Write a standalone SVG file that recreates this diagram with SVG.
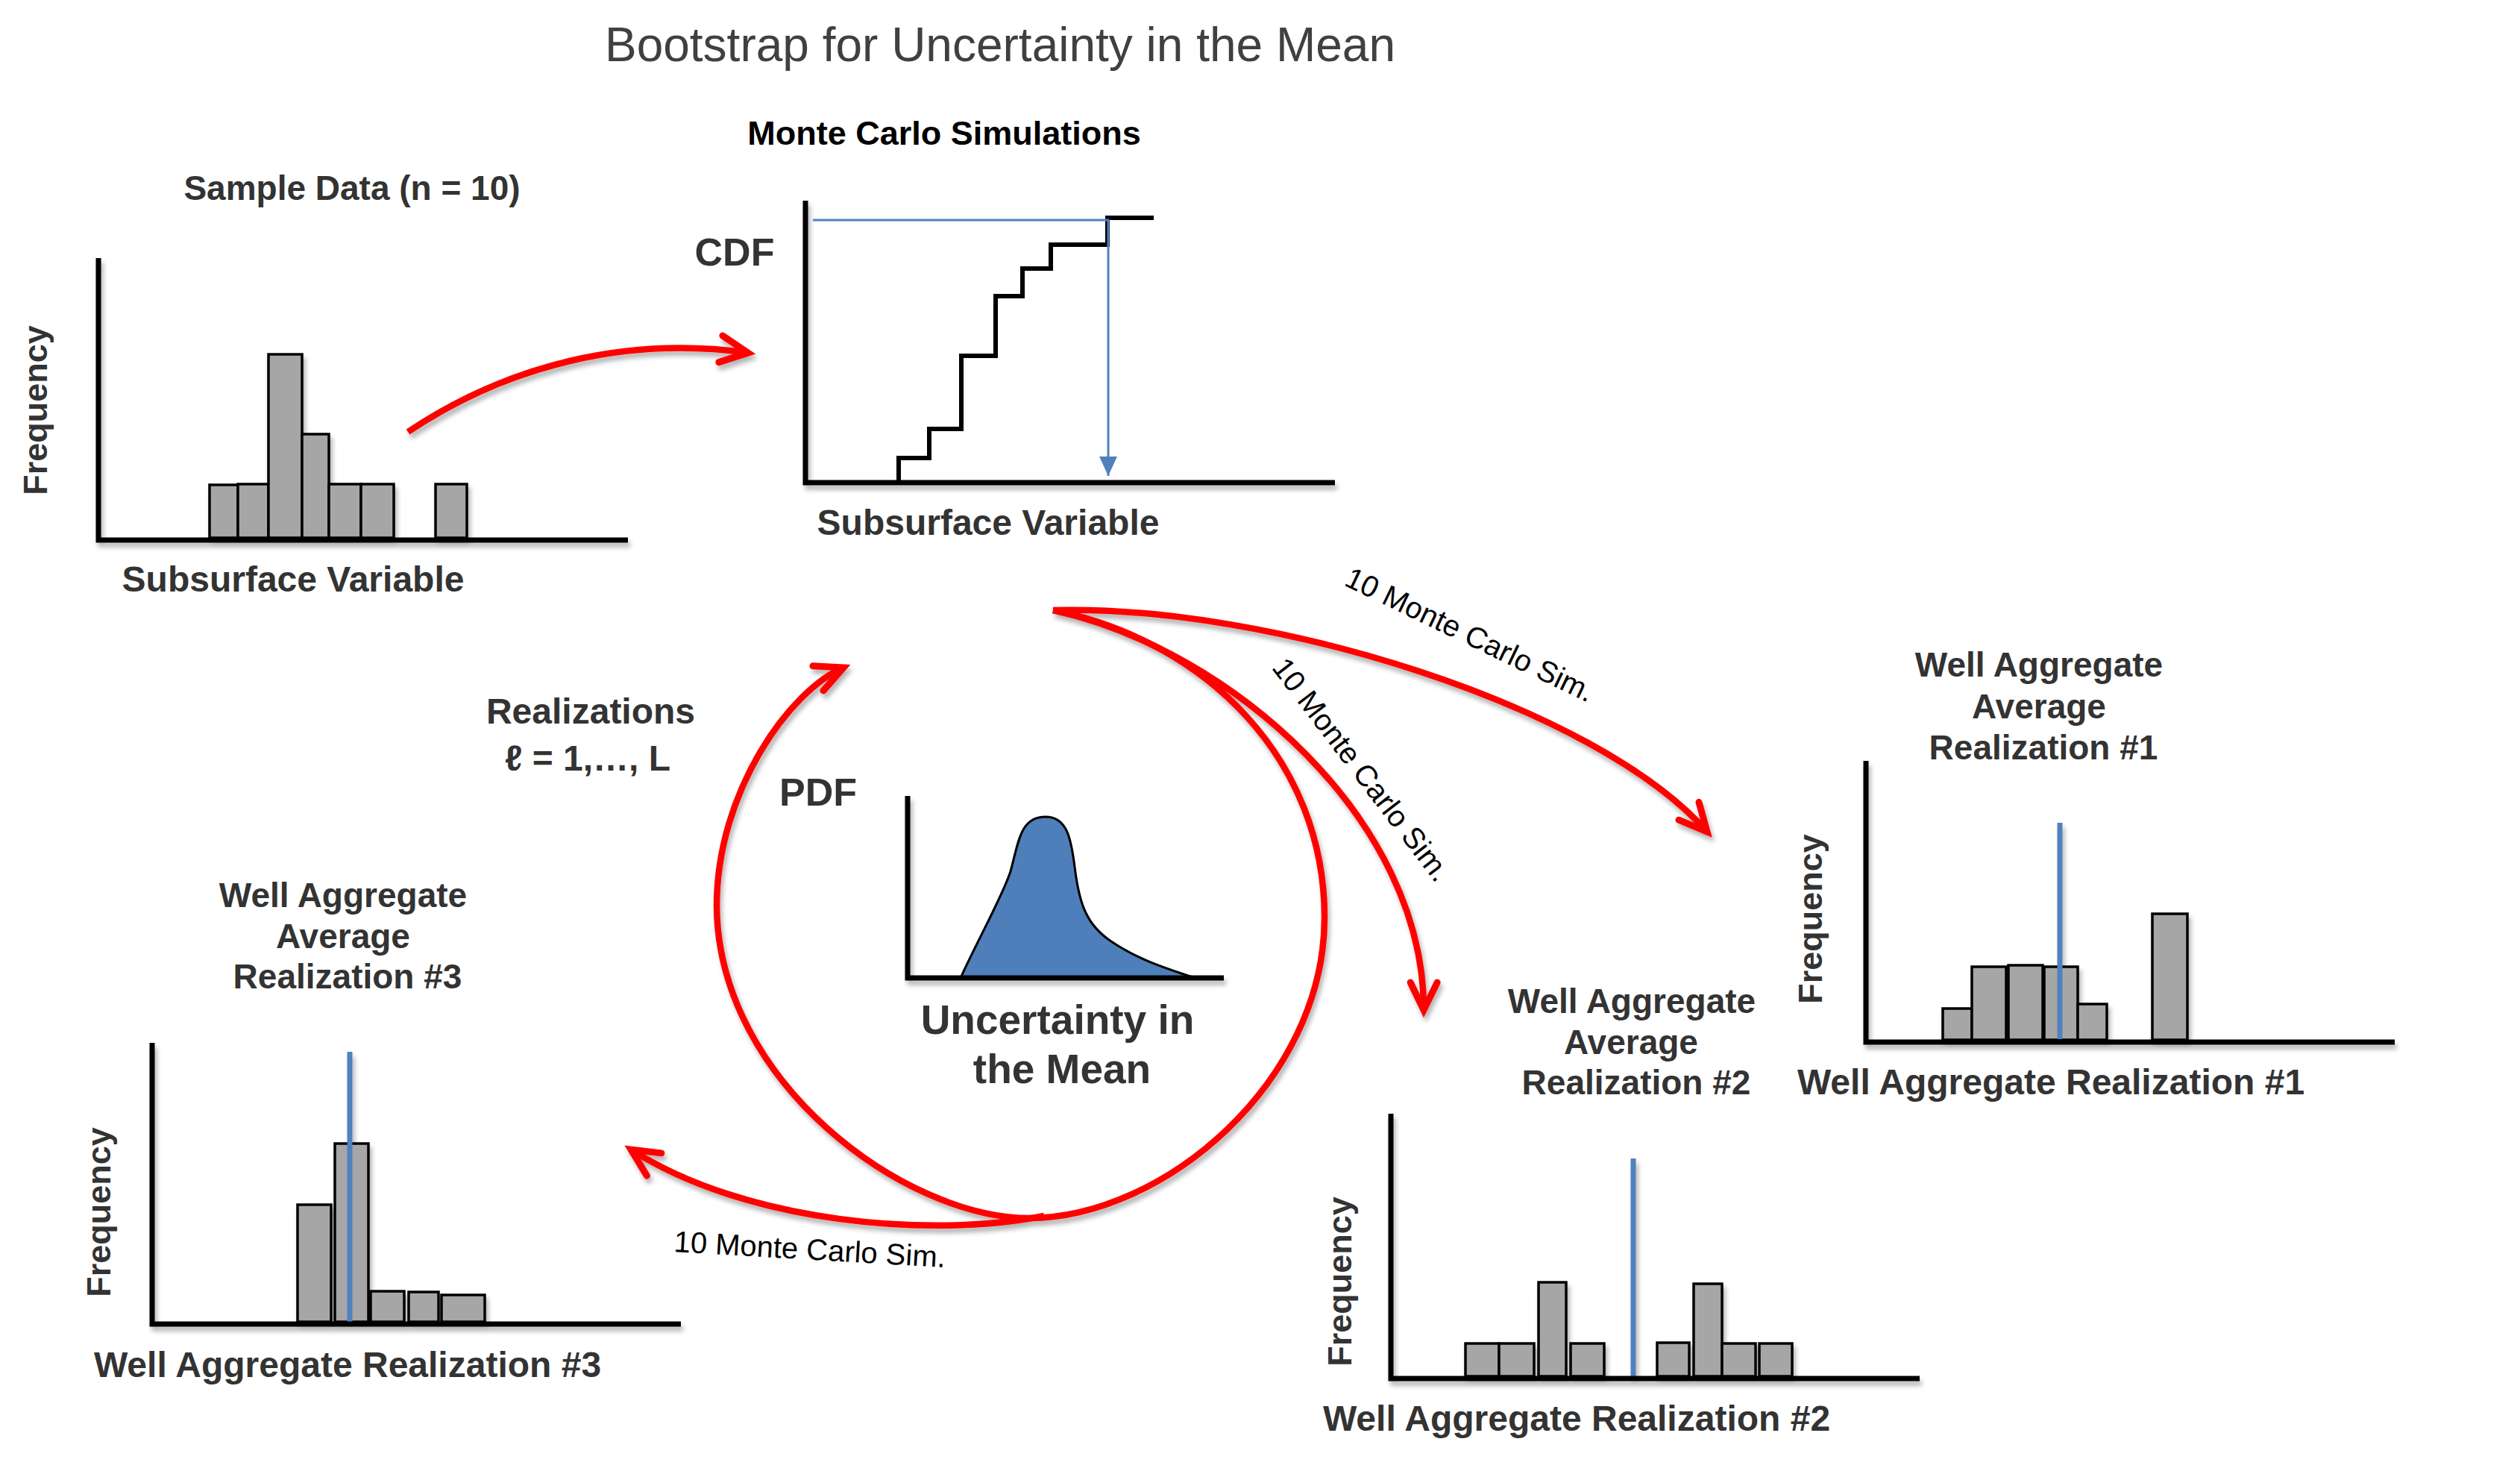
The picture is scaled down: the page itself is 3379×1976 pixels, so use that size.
<svg xmlns="http://www.w3.org/2000/svg" width="3379" height="1976" viewBox="0 0 3379 1976">
<defs>
<style>
.t{font-family:"Liberation Sans",Arial,sans-serif}
.b{font-weight:bold;fill:#333333}
.lbl{font-size:48px;font-weight:bold;fill:#333333}
.ttl{font-size:46px;font-weight:bold;fill:#333333;text-anchor:middle}
.mc{font-size:40px;fill:#000000}
.ax{fill:none;stroke:#000000;stroke-width:7;stroke-linejoin:miter;stroke-linecap:butt}
.bar{fill:#a6a6a6;stroke:#000000;stroke-width:3.5}
.mean{stroke:#4f81bd;stroke-width:7}
.red{fill:none;stroke:#ff0000;stroke-width:8.5;stroke-linecap:butt}
</style>
<filter id="sh" filterUnits="userSpaceOnUse" x="0" y="0" width="3379" height="1976">
<feGaussianBlur in="SourceAlpha" stdDeviation="3"/>
<feOffset dx="3" dy="6" result="o"/>
<feComponentTransfer><feFuncA type="linear" slope="0.3"/></feComponentTransfer>
<feMerge><feMergeNode/><feMergeNode in="SourceGraphic"/></feMerge>
</filter>
<marker id="chev" markerUnits="userSpaceOnUse" viewBox="-60 -40 80 80" markerWidth="80" markerHeight="80" refX="0" refY="0" orient="auto" overflow="visible">
<path d="M-37,-18 L0,0 L-37,18" fill="none" stroke="#ff0000" stroke-width="9" stroke-linecap="round" stroke-linejoin="miter"/>
</marker>
<marker id="blueTri" markerUnits="userSpaceOnUse" viewBox="-30 -15 32 30" markerWidth="32" markerHeight="30" refX="0" refY="0" orient="auto" overflow="visible">
<path d="M-26,-12 L0,0 L-26,12 Z" fill="#4f81bd"/>
</marker>
</defs>
<rect width="3379" height="1976" fill="#ffffff"/>

<g id="title">
<text class="t" x="1341" y="82" font-size="64" fill="#404040" text-anchor="middle">Bootstrap for Uncertainty in the Mean</text>
</g>

<g id="sample-data">
<text class="t b" x="472" y="268" font-size="46" text-anchor="middle">Sample Data (n = 10)</text>
<text class="t b" font-size="45" text-anchor="middle" transform="translate(63,550) rotate(-90)">Frequency</text>
<g filter="url(#sh)">
<rect class="bar" x="281" y="650" width="38" height="71"/>
<rect class="bar" x="319" y="649" width="41" height="72"/>
<rect class="bar" x="360" y="475" width="45" height="246"/>
<rect class="bar" x="405" y="582" width="36" height="139"/>
<rect class="bar" x="441" y="649" width="43" height="72"/>
<rect class="bar" x="484" y="649" width="44" height="72"/>
<rect class="bar" x="584" y="649" width="42" height="72"/>
<path class="ax" d="M132,346 V724 H842"/>
</g>
<text class="t lbl" x="393" y="793" text-anchor="middle">Subsurface Variable</text>
</g>

<g id="cdf">
<text class="t" x="1266" y="194" font-size="45" font-weight="bold" fill="#000000" text-anchor="middle">Monte Carlo Simulations</text>
<text class="t b" x="985" y="356" font-size="52" text-anchor="middle">CDF</text>
<g filter="url(#sh)">
<path class="ax" d="M1080,269 V647 H1790"/>
</g>
<path d="M1205,647 V614 H1246 V575 H1289 V477 H1335 V397 H1371 V360 H1409 V328 H1485 V292 H1547" fill="none" stroke="#000000" stroke-width="6" stroke-linejoin="miter"/>
<path d="M1090,295 H1486 V638" fill="none" stroke="#4f81bd" stroke-width="3" marker-end="url(#blueTri)"/>
<text class="t lbl" x="1325" y="717" text-anchor="middle">Subsurface Variable</text>
</g>

<g id="pdf">
<text class="t b" x="1097" y="1080" font-size="52" text-anchor="middle">PDF</text>
<path d="M1288,1311 C1310,1262 1345,1200 1355,1168 C1366,1128 1368,1095 1402,1095 C1430,1095 1436,1122 1441,1162 C1447,1212 1457,1240 1490,1262 C1530,1289 1570,1300 1602,1311 Z" fill="#4f7fba" stroke="#000000" stroke-width="3" stroke-linejoin="round"/>
<g filter="url(#sh)">
<path class="ax" d="M1217,1067 V1311 H1641"/>
</g>
<text class="t b" x="1418" y="1386" font-size="55" text-anchor="middle">Uncertainty in</text>
<text class="t b" x="1424" y="1452" font-size="55" text-anchor="middle">the Mean</text>
</g>

<g id="realizations-label">
<text class="t lbl" x="792" y="970" text-anchor="middle">Realizations</text>
<text class="t lbl" x="788" y="1033" text-anchor="middle">ℓ = 1,…, L</text>
</g>

<g id="realization-1">
<text class="t ttl" x="2734" y="907">Well Aggregate</text>
<text class="t ttl" x="2734" y="963">Average</text>
<text class="t ttl" x="2740" y="1018">Realization #1</text>
<text class="t b" font-size="45" text-anchor="middle" transform="translate(2443,1232) rotate(-90)">Frequency</text>
<g filter="url(#sh)">
<rect class="bar" x="2605" y="1352" width="39" height="42"/>
<rect class="bar" x="2644" y="1296" width="46" height="98"/>
<rect class="bar" x="2693" y="1294" width="46" height="100"/>
<rect class="bar" x="2741" y="1296" width="45" height="98"/>
<rect class="bar" x="2786" y="1346" width="39" height="48"/>
<rect class="bar" x="2886" y="1225" width="47" height="169"/>
<line class="mean" x1="2762" y1="1103" x2="2762" y2="1393"/>
<path class="ax" d="M2502,1020 V1397 H3211"/>
</g>
<text class="t lbl" x="2750" y="1467" text-anchor="middle">Well Aggregate Realization #1</text>
</g>

<g id="realization-2">
<text class="t ttl" x="2188" y="1358">Well Aggregate</text>
<text class="t ttl" x="2187" y="1413">Average</text>
<text class="t ttl" x="2194" y="1467">Realization #2</text>
<text class="t b" font-size="45" text-anchor="middle" transform="translate(1812,1718) rotate(-90)">Frequency</text>
<g filter="url(#sh)">
<rect class="bar" x="1965" y="1801" width="45" height="44"/>
<rect class="bar" x="2010" y="1801" width="47" height="44"/>
<rect class="bar" x="2063" y="1719" width="37" height="126"/>
<rect class="bar" x="2106" y="1801" width="45" height="44"/>
<rect class="bar" x="2222" y="1800" width="43" height="45"/>
<rect class="bar" x="2271" y="1721" width="38" height="124"/>
<rect class="bar" x="2309" y="1801" width="45" height="44"/>
<rect class="bar" x="2359" y="1801" width="44" height="44"/>
<line class="mean" x1="2190" y1="1553" x2="2190" y2="1845"/>
<path class="ax" d="M1865,1493 V1848 H2574"/>
</g>
<text class="t lbl" x="2114" y="1918" text-anchor="middle">Well Aggregate Realization #2</text>
</g>

<g id="realization-3">
<text class="t ttl" x="460" y="1216">Well Aggregate</text>
<text class="t ttl" x="460" y="1271">Average</text>
<text class="t ttl" x="466" y="1325">Realization #3</text>
<text class="t b" font-size="45" text-anchor="middle" transform="translate(148,1625) rotate(-90)">Frequency</text>
<g filter="url(#sh)">
<rect class="bar" x="399" y="1615" width="45" height="157"/>
<rect class="bar" x="449" y="1533" width="45" height="239"/>
<rect class="bar" x="497" y="1731" width="45" height="41"/>
<rect class="bar" x="548" y="1732" width="40" height="40"/>
<rect class="bar" x="592" y="1736" width="58" height="36"/>
<line class="mean" x1="469" y1="1410" x2="469" y2="1772"/>
<path class="ax" d="M204,1398 V1775 H913"/>
</g>
<text class="t lbl" x="466" y="1846" text-anchor="middle">Well Aggregate Realization #3</text>
</g>

<g id="connectors" filter="url(#sh)">
<path class="red" d="M547,579 C680,490 840,450 1003,473" marker-end="url(#chev)"/>
<path class="red" d="M1412,818 C1620,860 1776,1020 1776,1230 C1776,1450 1560,1633 1380,1633 C1213,1633 963,1450 961,1215 C961,1060 1060,925 1131,895" marker-end="url(#chev)"/>
<path class="red" d="M1412,818 C1700,810 2139,945 2289,1115" marker-end="url(#chev)"/>
<path class="red" d="M1412,818 C1650,870 1910,1100 1909,1354" marker-end="url(#chev)"/>
<path class="red" d="M1400,1630 C1250,1660 1000,1640 846,1541" marker-end="url(#chev)"/>
</g>
<g id="connector-labels">
<text class="t mc" text-anchor="middle" transform="translate(1965,863) rotate(25.7)">10 Monte Carlo Sim.</text>
<text class="t mc" text-anchor="middle" transform="translate(1815,1040) rotate(52.6)">10 Monte Carlo Sim.</text>
<text class="t mc" transform="translate(903,1678) rotate(3.3)">10 Monte Carlo Sim.</text>
</g>
</svg>
